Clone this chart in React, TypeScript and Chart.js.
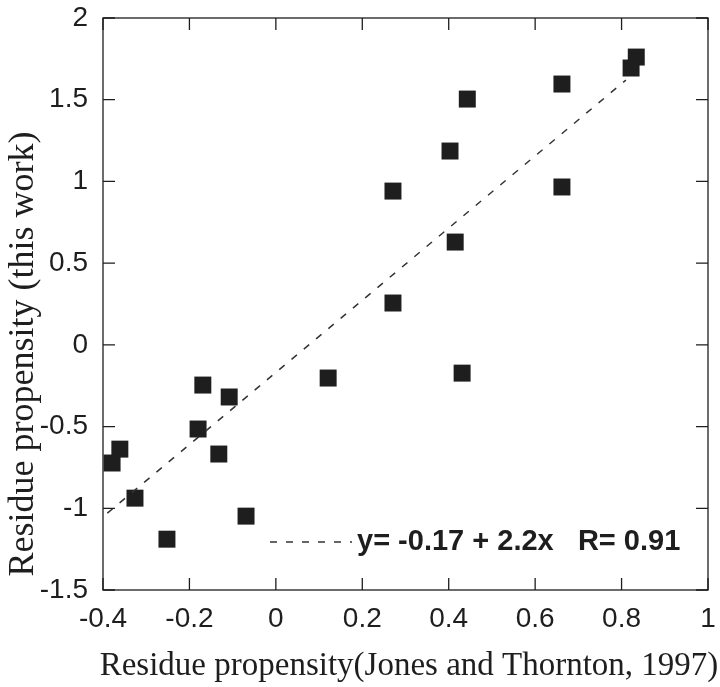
import React, { useEffect, useRef } from 'react';
import { Chart, registerables } from 'chart.js';

Chart.register(...registerables);

// ---- data ----
const xValues = [-0.379, -0.361, -0.326, -0.252, -0.169, -0.18, -0.108, -0.132, -0.069, 0.121, 0.431, 0.443, 0.662, 0.834, 0.822, 0.403, 0.271, 0.662, 0.415, 0.271];
const yValues = [-0.723, -0.638, -0.938, -1.189, -0.246, -0.515, -0.319, -0.668, -1.048, -0.203, -0.173, 1.504, 1.596, 1.761, 1.694, 1.186, 0.941, 0.966, 0.629, 0.256];
const fitX = [-0.39, 0.81];
const fitY = [-1.03, 1.62];
const xTicks = [-0.4, -0.2, 0, 0.2, 0.4, 0.6, 0.8, 1];
const yTicks = [-1.5, -1, -0.5, 0, 0.5, 1, 1.5, 2];
const xTickLabels = ['-0.4', '-0.2', '0', '0.2', '0.4', '0.6', '0.8', '1'];
const yTickLabels = ['-1.5', '-1', '-0.5', '0', '0.5', '1', '1.5', '2'];
const xTitle = 'Residue propensity(Jones and Thornton, 1997)';
const yTitle = 'Residue propensity (this work)';
const legendText = 'y= -0.17 + 2.2x   R= 0.91';

const INK = '#1e1e1e';

const zeroPad = (s: any) => {
  s.paddingTop = 0;
  s.paddingBottom = 0;
  s.paddingLeft = 0;
  s.paddingRight = 0;
};

const framePlugin = {
  id: 'frame',
  afterDraw(chart: any) {
    const { ctx, chartArea: a, scales } = chart;
    const xs = scales.x;
    const ys = scales.y;
    ctx.save();
    ctx.strokeStyle = INK;
    ctx.lineWidth = 1.3;
    ctx.strokeRect(a.left, a.top, a.right - a.left, a.bottom - a.top);
    const tl = 12;
    ctx.lineWidth = 1.3;
    ctx.beginPath();
    xTicks.forEach((v) => {
      const px = xs.getPixelForValue(v);
      ctx.moveTo(px, a.bottom);
      ctx.lineTo(px, a.bottom - tl);
      ctx.moveTo(px, a.top);
      ctx.lineTo(px, a.top + tl);
    });
    yTicks.forEach((v) => {
      const py = ys.getPixelForValue(v);
      ctx.moveTo(a.left, py);
      ctx.lineTo(a.left + tl, py);
      ctx.moveTo(a.right, py);
      ctx.lineTo(a.right - tl, py);
    });
    ctx.stroke();

    // legend (inside plot)
    const ly = a.bottom - 48;
    const lx0 = a.left + 167;
    ctx.strokeStyle = '#333';
    ctx.lineWidth = 1.5;
    ctx.setLineDash([7, 9]);
    ctx.beginPath();
    ctx.moveTo(lx0, ly);
    ctx.lineTo(lx0 + 82, ly);
    ctx.stroke();
    ctx.setLineDash([]);
    ctx.fillStyle = INK;
    ctx.font = 'bold 29px "Liberation Sans", Arial, sans-serif';
    ctx.textAlign = 'left';
    ctx.textBaseline = 'middle';
    ctx.fillText(legendText, lx0 + 87, ly);

    // axis titles
    ctx.font = '33px "Liberation Serif", "Times New Roman", serif';
    ctx.textAlign = 'center';
    ctx.textBaseline = 'alphabetic';
    ctx.fillText(xTitle, 409, 675);

    ctx.save();
    ctx.translate(33, 354);
    ctx.rotate(-Math.PI / 2);
    ctx.font = '36px "Liberation Serif", "Times New Roman", serif';
    ctx.fillText(yTitle, 0, 0);
    ctx.restore();
    ctx.restore();
  },
};

export default function App() {
  const ref = useRef<HTMLCanvasElement | null>(null);
  useEffect(() => {
    document.body.style.margin = '0';
    const canvas = ref.current;
    if (!canvas) return;
    const chart = new Chart(canvas, {
      type: 'scatter',
      data: {
        datasets: [
          {
            label: 'fit',
            data: fitX.map((x, i) => ({ x, y: fitY[i] })),
            showLine: true,
            borderColor: '#333',
            borderWidth: 1.5,
            borderDash: [7, 9],
            pointRadius: 0,
            fill: false,
          } as any,
          {
            label: 'points',
            data: xValues.map((x, i) => ({ x, y: yValues[i] })),
            pointStyle: 'rect',
            pointRadius: 12,
            backgroundColor: INK,
            borderColor: INK,
            borderWidth: 0,
          } as any,
        ],
      },
      options: {
        animation: false,
        responsive: false,
        devicePixelRatio: 1,
        layout: { padding: { top: 18, right: 12, left: 0, bottom: 0 } },
        plugins: { legend: { display: false }, tooltip: { enabled: false } },
        scales: {
          x: {
            type: 'linear',
            min: -0.4,
            max: 1,
            afterBuildTicks: (s: any) => {
              s.ticks = xTicks.map((v) => ({ value: v }));
            },
            afterFit: (s: any) => {
              s.height = 97;
              zeroPad(s);
            },
            ticks: {
              autoSkip: false,
              maxRotation: 0,
              padding: 12,
              color: INK,
              font: { family: '"Liberation Sans", Arial, sans-serif', size: 28 },
              callback: (v: any) => {
                const i = xTicks.findIndex((t) => Math.abs(t - v) < 1e-9);
                return i >= 0 ? xTickLabels[i] : '';
              },
            },
            grid: { display: false, drawTicks: false },
            border: { display: false },
          },
          y: {
            type: 'linear',
            min: -1.5,
            max: 2,
            afterBuildTicks: (s: any) => {
              s.ticks = yTicks.map((v) => ({ value: v }));
            },
            afterFit: (s: any) => {
              s.width = 103;
              zeroPad(s);
            },
            ticks: {
              autoSkip: false,
              padding: 15,
              color: INK,
              font: { family: '"Liberation Sans", Arial, sans-serif', size: 28 },
              callback: (v: any) => {
                const i = yTicks.findIndex((t) => Math.abs(t - v) < 1e-9);
                return i >= 0 ? yTickLabels[i] : '';
              },
            },
            grid: { display: false, drawTicks: false },
            border: { display: false },
          },
        },
      },
      plugins: [framePlugin],
    });
    return () => chart.destroy();
  }, []);
  return (
    <div style={{ width: 720, height: 687, background: '#fff' }}>
      <canvas ref={ref} width={720} height={687} style={{ display: 'block' }} />
    </div>
  );
}
